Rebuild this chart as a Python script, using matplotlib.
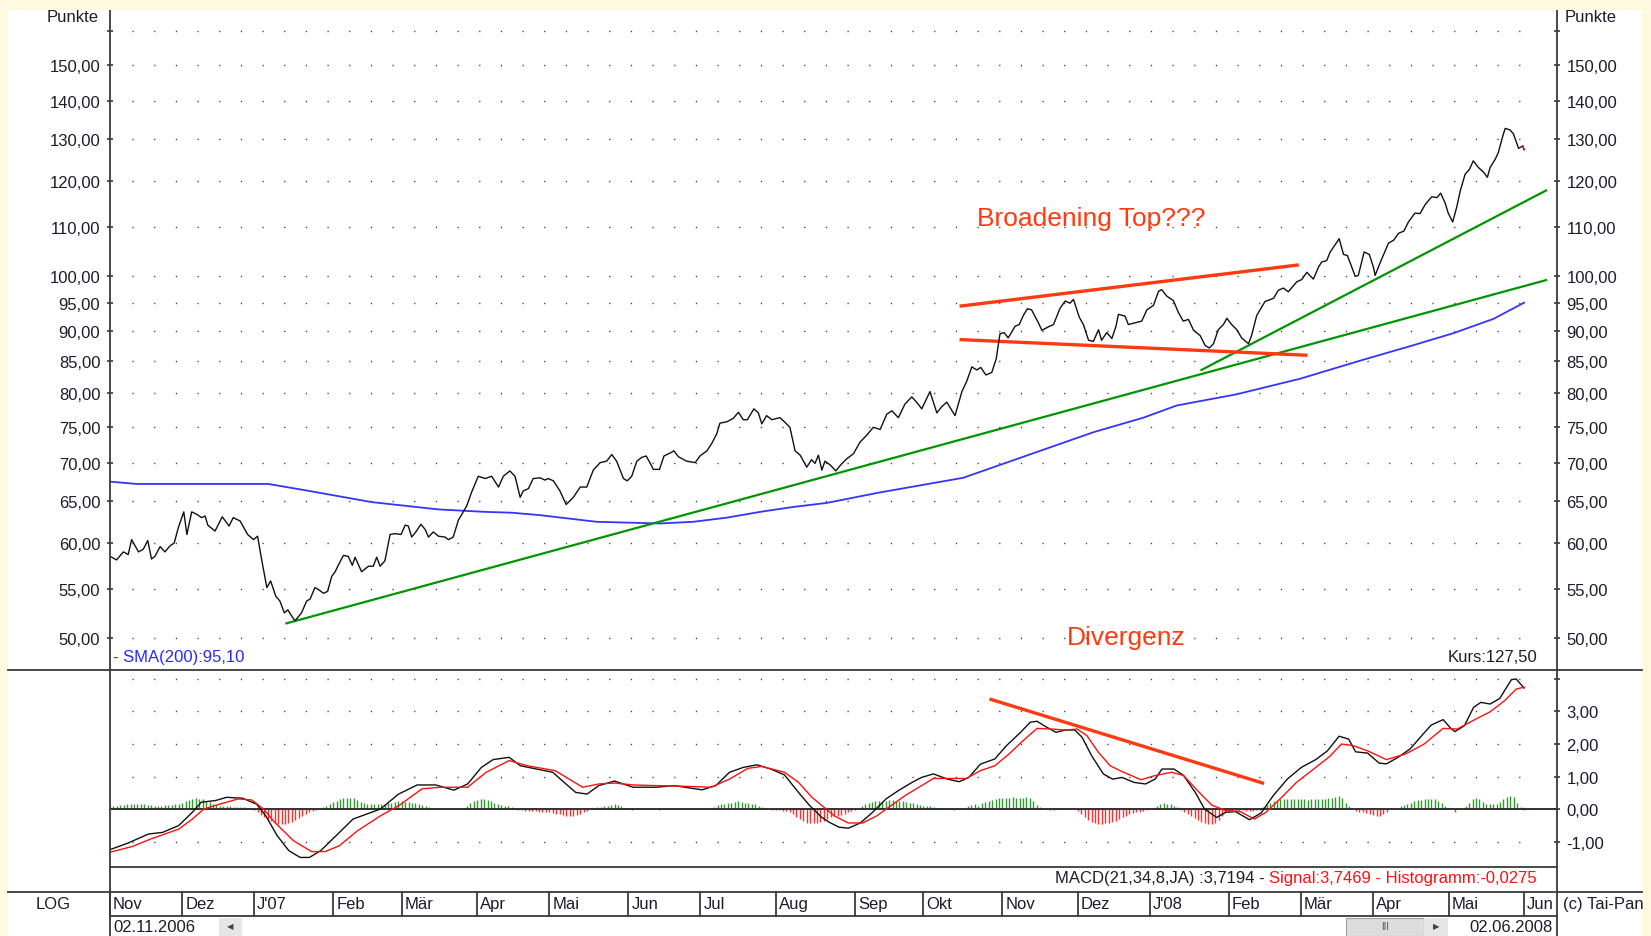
import matplotlib
matplotlib.use("Agg")
import matplotlib.pyplot as plt
import matplotlib.transforms as mtransforms
from matplotlib.lines import Line2D
from matplotlib.patches import Rectangle
from matplotlib.ticker import FixedLocator, FuncFormatter, NullLocator, NullFormatter
import numpy as np
import pandas as pd

plt.rcParams['font.family'] = ['Liberation Sans', 'DejaVu Sans']

# trading days 02.11.2006 .. 02.06.2008, x axis runs on the day number
days = pd.bdate_range('2006-11-02', '2008-06-02')
month_labels = ["Nov", "Dez", "J'07", "Feb", "Mär", "Apr", "Mai", "Jun", "Jul", "Aug",
                "Sep", "Okt", "Nov", "Dez", "J'08", "Feb", "Mär", "Apr", "Mai", "Jun"]

# closing price (day number, points)
price_day = [0.0, 1.9, 3.9, 5.3, 6.3, 8.3, 9.7, 11.0, 12.1, 13.1, 14.6, 16.0, 17.5, 18.7, 19.9,
             21.5, 22.4, 23.8, 25.3, 26.7, 27.7, 28.5, 30.6, 32.7, 34.7, 35.9, 37.9, 40.1, 41.8,
             43.0, 44.2, 45.7, 46.8, 48.3, 49.5, 50.8, 51.8, 52.9, 53.9, 55.8, 57.3, 58.3, 59.7,
             60.7, 62.2, 63.4, 64.6, 65.6, 66.5, 68.0, 69.4, 70.6, 71.4, 73.3, 75.3, 76.7, 77.7,
             78.7, 80.1, 81.6, 83.0, 84.8, 86.0, 86.9, 87.9, 89.1, 90.6, 91.8, 92.8, 94.2, 95.7,
             97.6, 98.6, 100.0, 101.5, 103.9, 105.4, 107.3, 109.3, 111.2, 113.2, 114.6, 116.5,
             118.0, 119.5, 120.4, 121.9, 123.3, 125.3, 126.7, 127.7, 129.2, 131.1, 132.9, 135.0,
             137.0, 138.9, 140.8, 142.8, 144.7, 146.2, 147.6, 149.6, 150.7, 152.0, 153.5, 154.9,
             156.2, 157.3, 158.3, 160.1, 161.4, 163.2, 164.3, 165.6, 168.0, 170.5, 171.9, 173.9,
             175.3, 176.8, 177.7, 179.7, 181.6, 183.1, 184.5, 185.7, 187.6, 188.9, 189.9, 191.3,
             192.8, 195.2, 196.7, 198.1, 199.6, 201.1, 203.0, 204.4, 205.4, 206.4, 207.4, 208.3,
             209.8, 211.5, 212.7, 214.6, 216.6, 218.5, 220.5, 222.4, 224.4, 226.3, 227.8, 229.7,
             231.6, 233.6, 235.0, 236.5, 238.9, 240.9, 242.3, 243.8, 246.2, 248.2, 249.6, 251.1,
             252.5, 253.7, 255.2, 256.9, 258.2, 259.3, 260.5, 261.7, 263.7, 264.9, 266.1, 267.3,
             268.5, 270.5, 271.5, 273.4, 274.9, 276.8, 278.3, 279.7, 280.7, 282.4, 283.6, 285.1,
             286.5, 288.0, 288.9, 290.4, 291.9, 293.1, 293.8, 295.7, 296.7, 298.7, 300.6, 302.1,
             304.0, 305.5, 306.4, 307.9, 309.8, 311.3, 312.7, 314.2, 315.7, 317.6, 319.1, 320.3,
             321.5, 322.9, 324.4, 325.4, 326.8, 328.3, 329.7, 331.7, 332.6, 334.1, 336.5, 339.0,
             340.4, 341.9, 343.3, 345.8, 347.2, 348.7, 350.6, 352.1, 353.0, 354.5, 355.5, 356.9,
             358.1, 359.4, 360.5, 361.8, 362.8, 363.7, 365.4, 366.9, 368.1, 368.6, 370.2, 372.5,
             374.0, 375.4, 377.0, 378.3, 380.2, 381.7, 383.2, 385.1, 386.6, 387.7, 389.0, 389.9,
             391.2, 392.4, 393.4, 394.8, 396.1, 397.2, 398.7, 400.2, 401.3, 402.1, 403.6, 404.5,
             405.8, 406.5, 407.9, 408.9, 410.4, 411.6, 412.0]
price_val = [58.5, 58.1, 59.0, 58.7, 60.4, 59.0, 59.3, 60.3, 58.2, 58.5, 59.6, 59.0, 59.7, 60.0, 61.8,
             63.7, 61.0, 63.7, 63.4, 63.0, 63.2, 62.1, 61.4, 63.1, 62.0, 63.0, 62.6, 61.0, 60.4,
             60.8, 58.1, 55.1, 55.8, 54.2, 53.7, 52.5, 52.8, 52.2, 51.7, 52.5, 53.7, 53.9, 55.1,
             54.9, 54.5, 54.7, 56.3, 56.8, 57.5, 58.6, 58.5, 57.5, 58.4, 56.8, 57.4, 57.4, 58.4,
             57.4, 58.0, 61.0, 61.1, 61.0, 62.1, 62.0, 60.7, 61.3, 62.2, 61.6, 60.7, 61.3, 60.8,
             60.7, 60.4, 60.7, 62.7, 64.4, 66.2, 68.2, 67.9, 68.2, 66.8, 68.2, 68.9,
             68.2, 65.5, 66.3, 66.6, 67.9, 68.0, 67.7, 67.9, 67.6, 66.3, 64.6, 65.5,
             66.8, 66.8, 69.0, 70.0, 70.2, 71.1, 70.2, 67.9, 67.6, 68.2, 70.2, 70.7,
             70.9, 70.0, 69.1, 69.1, 70.9, 71.3, 71.6, 70.8, 70.2, 70.0, 70.9, 71.6,
             72.6, 74.0, 75.5, 75.7, 76.2, 77.1, 76.0, 76.0, 77.6, 77.0, 75.4, 76.6,
             76.0, 76.3, 75.6, 74.9, 71.6, 71.0, 69.4, 70.4, 69.9, 71.0, 69.0, 70.2,
             69.7, 68.9, 69.6, 70.5, 71.2, 72.8, 73.8, 74.9, 74.6, 76.8, 77.3, 76.3,
             78.3, 79.4, 78.6, 77.6, 80.2, 77.0, 77.9, 78.6, 76.6, 80.2, 81.8, 84.1,
             83.6, 84.0, 82.8, 83.2, 85.4, 89.6, 89.8, 88.9, 90.9, 91.2, 92.8, 94.0,
             93.8, 91.5, 90.2, 90.8, 91.2, 94.1, 95.4, 95.0, 95.7, 92.5, 91.2, 88.5,
             88.3, 90.3, 88.5, 89.8, 88.8, 90.9, 93.0, 92.7, 91.2, 91.5, 91.8, 93.8,
             94.6, 97.2, 97.5, 96.3, 95.5, 93.3, 91.8, 92.1, 90.2, 89.3, 87.6, 87.2,
             87.9, 90.3, 91.2, 92.3, 91.2, 90.3, 88.9, 87.9, 89.3, 92.8, 95.3, 95.9,
             97.4, 97.8, 97.1, 99.0, 99.4, 100.8, 99.5, 101.8, 102.8, 103.1, 104.8, 106.2,
             107.5, 104.3, 104.1, 101.8, 100.0, 100.2, 104.8, 104.3, 101.8, 100.2, 102.9, 106.6,
             107.2, 108.6, 109.1, 111.0, 112.9, 112.8, 114.8, 116.5, 116.3, 117.3, 115.1, 112.9,
             111.0, 114.3, 117.8, 121.6, 122.8, 124.8, 123.2, 122.1, 120.9, 123.2, 125.2, 126.8,
             130.9, 132.8, 132.4, 131.4, 127.8, 128.4, 127.5]

# SMA(200)
sma_day = [0, 7.8, 46.1, 56.8, 76.3, 95.7, 109.3, 117, 125.3, 141.8, 160.3, 169.9, 179.7, 189.4,
           199, 208.8, 224.1, 248.6, 271, 286.5, 301.1, 310.8, 328.3, 346.7, 364.2, 378.8, 391.4,
           403.1, 412]
sma_val = [67.5, 67.2, 67.2, 66.4, 64.9, 64.0, 63.7, 63.6, 63.3, 62.5, 62.3, 62.5, 63.0, 63.7,
           64.3, 64.8, 66.1, 68.0, 71.6, 74.2, 76.3, 78.1, 79.8, 82.2, 85.1, 87.5, 89.7, 92.2, 95.1]

# MACD(21,34,8) line
macd_day = [0, 5.2, 11.2, 15.3, 20.0, 24.0, 26.6, 30.7, 34.0, 38.7, 42.7, 45.4, 48.7, 52.1, 55.4,
            58.1, 61.4, 65.4, 70.8, 78.8, 84.1, 89.5, 94.9, 100.2, 104.2, 108.2, 111.6, 116.3,
            119.6, 124.3, 129.0, 132.3, 135.7, 139.0, 142.4, 147.0, 152.4, 159.1, 164.4, 172.5,
            176.5, 180.5, 184.5, 188.5, 192.5, 196.5, 200.6, 203.9, 207.3, 209.6, 212.4, 215.1,
            218.6, 222.0, 226.1, 229.6, 233.7, 236.4, 239.9, 244.0, 247.4, 250.2, 253.6, 257.8,
            261.2, 265.3, 268.1, 270.1, 272.2, 275.6, 278.4, 281.1, 283.2, 286.0, 289.4, 292.1,
            294.9, 298.3, 301.7, 304.5, 306.5, 310.0, 312.8, 316.2, 318.9, 322.4, 325.1, 327.9,
            332.0, 335.4, 338.9, 343.0, 347.1, 351.3, 354.7, 358.1, 360.9, 362.9, 366.4, 369.8,
            371.9, 375.3, 378.8, 382.2, 384.9, 388.4, 390.4, 391.8, 394.6, 397.3, 399.4, 402.1,
            404.9, 408.3, 409.7, 412.0]
macd_val = [-1.25, -1.05, -0.77, -0.72, -0.51, -0.10, 0.21, 0.26, 0.36, 0.33, 0.15, -0.21, -0.82,
            -1.28, -1.49, -1.49, -1.28, -0.87, -0.31, 0.0, 0.46, 0.74, 0.74, 0.58, 0.77, 1.28,
            1.52, 1.59, 1.33, 1.23, 1.13, 0.82, 0.51, 0.46, 0.72, 0.86, 0.67, 0.67, 0.72, 0.59,
            0.72, 1.13, 1.28, 1.36, 1.23, 1.05, 0.51, 0.10, -0.25, -0.41, -0.56, -0.59, -0.43,
            -0.12, 0.31, 0.56, 0.82, 0.97, 1.08, 0.92, 0.84, 0.97, 1.38, 1.54, 1.95, 2.36, 2.67,
            2.70, 2.56, 2.36, 2.43, 2.43, 2.21, 1.64, 1.08, 0.92, 0.97, 0.82, 0.77, 0.92, 1.23,
            1.23, 1.03, 0.51, 0.0, -0.26, -0.10, -0.08, -0.33, -0.12, 0.41, 0.92, 1.28, 1.52,
            1.79, 2.24, 2.15, 1.76, 1.72, 1.41, 1.39, 1.59, 1.85, 2.26, 2.58, 2.75, 2.51, 2.38,
            2.56, 3.13, 3.28, 3.23, 3.40, 3.98, 4.00, 3.72]

# signal line
sig_day = [0, 6.6, 11.9, 20.0, 24.0, 27.3, 32.0, 37.3, 41.3, 44.7, 48.0, 53.4, 58.7, 62.7, 66.8,
           72.1, 78.8, 84.1, 90.9, 96.2, 104.2, 109.6, 116.3, 121.6, 129.7, 137.7, 142.4, 147.0,
           152.4, 159.1, 167.1, 175.1, 180.5, 185.8, 189.9, 196.5, 200.6, 204.5, 207.5, 211.0,
           215.1, 219.3, 223.4, 227.5, 231.6, 235.7, 239.9, 244.0, 249.5, 253.6, 257.8, 261.9,
           266.0, 270.1, 274.3, 278.4, 281.8, 284.6, 288.0, 291.4, 294.9, 300.4, 304.5, 309.3,
           312.8, 316.9, 321.0, 325.1, 329.3, 333.4, 336.8, 340.9, 345.7, 351.3, 355.4, 358.8,
           362.2, 366.4, 371.9, 377.4, 382.9, 388.4, 392.5, 398.0, 402.1, 406.3, 409.7, 412.0]
sig_val = [-1.33, -1.15, -0.92, -0.62, -0.31, 0.0, 0.15, 0.31, 0.28, 0.0, -0.41, -0.97, -1.31,
           -1.31, -1.13, -0.67, -0.21, 0.10, 0.62, 0.67, 0.67, 1.13, 1.49, 1.33, 1.18, 0.67, 0.77,
           0.80, 0.74, 0.72, 0.70, 0.67, 0.92, 1.25, 1.31, 1.13, 0.82, 0.36, 0.10, -0.21, -0.43,
           -0.43, -0.21, 0.10, 0.41, 0.67, 0.94, 0.94, 0.94, 1.18, 1.33, 1.69, 2.10, 2.48, 2.46,
           2.43, 2.46, 2.26, 1.74, 1.33, 1.15, 0.90, 1.03, 1.13, 1.03, 0.56, 0.12, -0.05, -0.08,
           -0.31, -0.10, 0.31, 0.82, 1.28, 1.62, 2.00, 1.95, 1.79, 1.52, 1.69, 2.00, 2.48, 2.46,
           2.77, 2.99, 3.33, 3.69, 3.75]

# histogram, one row per month, one value per trading day
hist_months = [
    [0.08, 0.10, 0.10, 0.12, 0.12, 0.14, 0.15, 0.16, 0.16, 0.15, 0.14, 0.12, 0.11, 0.10, 0.10,
     0.10, 0.11, 0.12, 0.12, 0.14, 0.15],
    [0.20, 0.25, 0.29, 0.32, 0.33, 0.32, 0.30, 0.26, 0.21, 0.16, 0.12, 0.10, 0.09, 0.08, 0.08,
     0.07, 0.07, 0.06, 0.05, 0.04, 0.02],
    [-0.04, -0.10, -0.18, -0.26, -0.33, -0.38, -0.42, -0.45, -0.46, -0.45, -0.43, -0.39, -0.34,
     -0.28, -0.22, -0.16, -0.10, -0.05, -0.02, 0.02, 0.06, 0.10, 0.16],
    [0.21, 0.26, 0.30, 0.33, 0.35, 0.35, 0.33, 0.28, 0.22, 0.17, 0.15, 0.15, 0.14, 0.14, 0.15,
     0.16, 0.18, 0.20, 0.22, 0.24],
    [0.24, 0.23, 0.21, 0.19, 0.17, 0.14, 0.11, 0.08, 0.05, 0.02, 0.0, 0.0, -0.01, -0.01, 0.0,
     0.0, 0.0, 0.0, 0.04, 0.10, 0.17, 0.24],
    [0.29, 0.32, 0.31, 0.28, 0.24, 0.20, 0.16, 0.13, 0.10, 0.09, 0.07, 0.03, -0.03, -0.04, -0.05,
     -0.05, -0.06, -0.07, -0.08, -0.08, -0.09],
    [-0.10, -0.12, -0.14, -0.16, -0.18, -0.20, -0.21, -0.21, -0.19, -0.15, -0.10, -0.05, 0.0,
     0.03, 0.05, 0.06, 0.08, 0.10, 0.12, 0.14, 0.12, 0.08, 0.04],
    [0.01, -0.03, 0.0, 0.0, 0.0, 0.0, 0.0, 0.0, 0.0, -0.03, 0.0, 0.0, 0.0, 0.0, 0.0, 0.0, 0.0,
     0.0, 0.0, 0.0, 0.0],
    [0.0, 0.0, 0.0, 0.0, 0.05, 0.12, 0.14, 0.16, 0.18, 0.20, 0.22, 0.24, 0.22, 0.20, 0.18, 0.16,
     0.14, 0.10, 0.06, 0.03, 0.0, -0.03],
    [-0.03, -0.04, -0.05, -0.06, -0.10, -0.16, -0.24, -0.31, -0.37, -0.42, -0.44, -0.44, -0.42,
     -0.40, -0.36, -0.30, -0.26, -0.22, -0.20, -0.18, -0.14, -0.10, -0.06],
    [-0.02, 0.0, 0.10, 0.14, 0.18, 0.22, 0.25, 0.26, 0.26, 0.26, 0.27, 0.27, 0.26, 0.25, 0.24,
     0.22, 0.20, 0.18, 0.15, 0.12],
    [0.10, 0.09, 0.08, 0.07, 0.04, 0.02, 0.0, 0.0, 0.0, -0.02, 0.0, 0.0, 0.0, 0.10, 0.12, 0.15,
     0.10, 0.18, 0.22, 0.25, 0.28, 0.30, 0.33],
    [0.34, 0.35, 0.35, 0.36, 0.35, 0.34, 0.35, 0.36, 0.34, 0.25, 0.12, 0.05, 0.0, 0.0, -0.03,
     -0.03, 0.0, 0.0, 0.0, 0.0, 0.0, 0.0],
    [-0.05, -0.15, -0.25, -0.33, -0.40, -0.43, -0.45, -0.45, -0.44, -0.43, -0.40, -0.36, -0.30,
     -0.25, -0.20, -0.16, -0.13, -0.10, -0.08, -0.06, -0.04],
    [0.0, 0.0, 0.08, 0.14, 0.17, 0.16, 0.14, 0.10, 0.05, -0.03, -0.08, -0.15, -0.22, -0.28,
     -0.34, -0.39, -0.43, -0.45, -0.45, -0.43, -0.35, -0.20, -0.10],
    [-0.05, -0.05, -0.06, -0.05, -0.04, -0.05, -0.06, -0.05, -0.04, -0.02, 0.05, 0.12, 0.18,
     0.24, 0.28, 0.30, 0.31, 0.31, 0.30, 0.30, 0.31],
    [0.30, 0.30, 0.29, 0.30, 0.31, 0.30, 0.31, 0.32, 0.33, 0.35, 0.38, 0.40, 0.34, 0.20, 0.08,
     0.0, -0.05, -0.08, -0.10, -0.13, -0.15],
    [-0.18, -0.20, -0.20, -0.15, -0.08, 0.0, 0.0, 0.04, 0.08, 0.12, 0.16, 0.20, 0.24, 0.27,
     0.29, 0.30, 0.32, 0.32, 0.30, 0.26, 0.18, 0.10],
    [0.02, 0.0, -0.08, 0.0, 0.0, 0.10, 0.20, 0.30, 0.35, 0.30, 0.22, 0.16, 0.15, 0.16, 0.15,
     0.22, 0.30, 0.36, 0.40, 0.38, 0.20, 0.05],
    [-0.03],
]

# hand drawn trend lines (day number, value)
green_long = ([51.4, 418.4], [51.45, 99.3])
green_steep = ([318.0, 418.4], [83.6, 117.9])
red_top = ([248.0, 345.9], [94.5, 102.2])
red_bottom = ([248.0, 348.4], [88.6, 86.0])
macd_divergence = ([256.7, 335.8], [3.37, 0.80])

price_ticks = [50, 55, 60, 65, 70, 75, 80, 85, 90, 95, 100, 110, 120, 130, 140, 150, 160]
macd_ticks = [-1, 0, 1, 2, 3, 4]

W, H = 1651, 937
BG = '#FFF9E0'
TXT = '#1c1c2c'
LC = '#3a3a3a'
ANN = '#FF3A10'
FS = 12


def fx(px):
    return px / W


def fy(py):
    return 1 - py / H


def de_fmt(v, pos=None):
    return f'{v:.2f}'.replace('.', ',')


fig = plt.figure(figsize=(W / 100, H / 100), dpi=100, facecolor=BG)
fig.add_artist(Rectangle((fx(8), 0), fx(1642) - fx(8), fy(11), transform=fig.transFigure,
                         facecolor='white', edgecolor='none', zorder=-5))

ax = fig.add_axes([fx(110), fy(670.7), fx(1556.7) - fx(110), fy(11) - fy(670.7)])
ax2 = fig.add_axes([fx(110), fy(867.7), fx(1556.7) - fx(110), fy(670.7) - fy(867.7)])
for a in (ax, ax2):
    a.set_facecolor('none')
    for s in a.spines.values():
        s.set_visible(False)
    a.set_xlim(0, 421.5)
    a.set_xticks([])

# price panel
ax.set_yscale('log')
ax.set_ylim(47.08, 166.6)
ax.yaxis.set_major_locator(FixedLocator(price_ticks))
ax.yaxis.set_minor_locator(NullLocator())
ax.yaxis.set_minor_formatter(NullFormatter())
ax.yaxis.set_major_formatter(FuncFormatter(lambda v, p: '' if v > 155 else de_fmt(v)))
ax.tick_params(axis='y', which='major', left=True, right=True, labelleft=True, labelright=True,
               direction='inout', length=4, width=1.2, pad=5, labelsize=FS,
               labelcolor=TXT, color=LC)
ax.hlines(price_ticks, 6.3, 412, colors='#3c3c3c', linewidth=1.0,
          linestyles=(0, (0.9, 14.7)), zorder=1)

ax.plot(sma_day, sma_val, color='#3434FF', lw=1.3, zorder=3)
ax.plot(green_long[0], green_long[1], color='#009400', lw=1.6, zorder=3)
ax.plot(green_steep[0], green_steep[1], color='#009400', lw=1.6, zorder=3)
ax.plot(red_top[0], red_top[1], color=ANN, lw=2.4, zorder=3)
ax.plot(red_bottom[0], red_bottom[1], color=ANN, lw=2.4, zorder=3)
ax.plot(price_day, price_val, color='#111111', lw=1.0, zorder=4)
ax.plot(price_day[-2:], price_val[-2:], color='#FF0000', lw=1.0, zorder=5)

ax.text(252.6, 111.8, 'Broadening Top???', color=ANN, fontsize=19, ha='left', va='center')
ax.text(278.8, 50.1, 'Divergenz', color=ANN, fontsize=19, ha='left', va='center')

# MACD panel
ax2.set_ylim(-1.775, 4.286)
ax2.yaxis.set_major_locator(FixedLocator(macd_ticks))
ax2.yaxis.set_major_formatter(FuncFormatter(lambda v, p: '' if v > 3.5 else de_fmt(v)))
ax2.tick_params(axis='y', left=False, right=True, labelleft=False, labelright=True,
                direction='inout', length=4, width=1.2, pad=5, labelsize=FS,
                labelcolor=TXT, color=LC)
ax2.hlines([-1, 1, 2, 3, 4], 6.3, 412, colors='#3c3c3c', linewidth=1.0,
           linestyles=(0, (0.9, 14.7)), zorder=1)

hist = np.concatenate([np.array(m, dtype=float) for m in hist_months])
hx = np.arange(len(hist))
up = hist > 0
dn = hist < 0
ax2.vlines(hx[up], 0, hist[up], colors='#2E9A2E', linewidth=1.0, zorder=2)
ax2.vlines(hx[dn], 0, hist[dn], colors='#FF3030', linewidth=1.0, zorder=2)
ax2.axhline(0, color='#222222', lw=1.3, zorder=3)
ax2.plot(macd_day, macd_val, color='#111111', lw=1.0, zorder=4)
ax2.plot(sig_day, sig_val, color='#FF1010', lw=1.0, zorder=5)
ax2.plot(macd_divergence[0], macd_divergence[1], color=ANN, lw=2.4, zorder=6)


# frame lines of the chart window
def hline(y, x0, x1):
    fig.add_artist(Line2D([fx(x0), fx(x1)], [fy(y), fy(y)], transform=fig.transFigure,
                          color=LC, lw=1.3, zorder=5))


def vline(x, y0, y1):
    fig.add_artist(Line2D([fx(x), fx(x)], [fy(y0), fy(y1)], transform=fig.transFigure,
                          color=LC, lw=1.3, zorder=5))


hline(670.7, 8, 1642)
hline(892.7, 8, 1642)
hline(867.7, 110, 1556.7)
hline(916.7, 110, 1556.7)
vline(110, 11, 937)
vline(1556.7, 11, 937)

# month row
trans = mtransforms.blended_transform_factory(ax.transData, fig.transFigure)
month_start = [0] + [i for i in range(1, len(days)) if days[i].month != days[i - 1].month]
for idx, lab in zip(month_start, month_labels):
    fig.add_artist(Line2D([idx, idx], [fy(892.7), fy(916.7)], transform=trans,
                          color=LC, lw=1.3, zorder=5))
    fig.text(idx + 0.9, fy(905), lab, transform=trans, fontsize=FS, color=TXT,
             ha='left', va='center')

fig.text(fx(53), fy(905), 'LOG', fontsize=FS, color=TXT, ha='center', va='center')
fig.text(fx(1563), fy(905), '(c) Tai-Pan', fontsize=FS, color=TXT, ha='left', va='center')
fig.text(fx(113), fy(928), days[0].strftime('%d.%m.%Y'), fontsize=FS, color=TXT,
         ha='left', va='center')
fig.text(fx(1553), fy(928), days[-1].strftime('%d.%m.%Y'), fontsize=FS, color=TXT,
         ha='right', va='center')

# scroll bar bits
fig.add_artist(Rectangle((fx(219), 0), fx(242) - fx(219), fy(919), transform=fig.transFigure,
                         facecolor='#E6E6E6', edgecolor='none', zorder=4))
fig.text(fx(230.5), fy(928), '◀', fontsize=6, color='#404040', ha='center', va='center',
         zorder=6)
fig.add_artist(Rectangle((fx(1346), 0), fx(1424) - fx(1346), fy(919), transform=fig.transFigure,
                         facecolor='#DCDCDC', edgecolor='#A0A0A0', lw=0.8, zorder=4))
fig.text(fx(1385), fy(927), 'III', fontsize=7, color='#555555', ha='center', va='center',
         zorder=6)
fig.add_artist(Rectangle((fx(1424), 0), fx(1448) - fx(1424), fy(919), transform=fig.transFigure,
                         facecolor='#E6E6E6', edgecolor='none', zorder=4))
fig.text(fx(1436), fy(928), '▶', fontsize=6, color='#404040', ha='center', va='center',
         zorder=6)

# legends in the panels
fig.text(fx(113), fy(658), '- SMA(200):95,10', fontsize=FS, color='#2828FF',
         ha='left', va='center')
fig.text(fx(1537), fy(658), 'Kurs:127,50', fontsize=FS, color=TXT, ha='right', va='center')
t_red = fig.text(fx(1537), fy(879), 'Signal:3,7469 - Histogramm:-0,0275', fontsize=FS,
                 color='#FF1010', ha='right', va='center')
fig.canvas.draw()
bb = t_red.get_window_extent(fig.canvas.get_renderer())
fig.text(bb.x0 / W, fy(879), 'MACD(21,34,8,JA) :3,7194 - ', fontsize=FS, color=TXT,
         ha='right', va='center')

fig.text(fx(99), fy(17), 'Punkte', fontsize=FS, color=TXT, ha='right', va='center')
fig.text(fx(1565), fy(17), 'Punkte', fontsize=FS, color=TXT, ha='left', va='center')
fig.add_artist(Rectangle((0, fy(11)), 1, 1 - fy(11), transform=fig.transFigure,
                         facecolor=BG, edgecolor='none', zorder=20))

fig.savefig('out.png', dpi=100, facecolor=BG)
